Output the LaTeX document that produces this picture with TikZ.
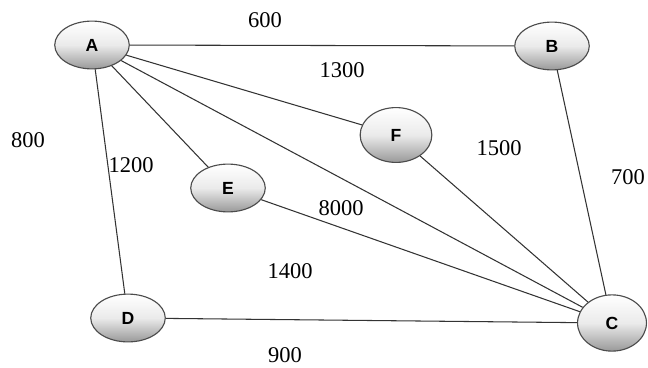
\documentclass[tikz,border=0pt]{standalone}
\usepackage{fontspec}
\setmainfont{Liberation Serif}
\setsansfont{Liberation Sans}
\usepackage{tikz}
\usetikzlibrary{shapes.geometric}
\tikzset{city/.style={ellipse, draw=black!70, line width=0.8pt,
    top color=white, bottom color=black!40, middle color=black!8,
    minimum width=53pt, minimum height=34pt, inner sep=0pt,
    font=\sffamily\bfseries\fontsize{12.5}{14}\selectfont},
  road/.style={draw=black!80, line width=0.75pt},
  dist/.style={font=\fontsize{16}{18}\selectfont}}

\begin{document}
\begin{tikzpicture}[x=0.025cm, y=-0.025cm]
        \useasboundingbox (0,0) rectangle (648,367);
        % towns
        \node[city] (A) at (92,45) {A};
        \node[city] (B) at (552,46) {B};
        \node[city, minimum width=51pt, minimum height=39pt] (F) at (396,135) {F};
        \node[city] (E) at (228,188) {E};
        \node[city] (D) at (128,318) {D};
        \node[city, minimum width=49pt, minimum height=40pt] (C) at (612,323) {C};
        % roads
        \foreach \u/\v in {A/B,A/F,A/E,A/D,A/C,F/C,B/C,E/C,D/C}{
            \draw[road] (\u)--(\v);
        }
        % distances
        \node[dist] (lab) at (265,20) {600};
        \node[dist] (lac) at (341,208) {8000};
        \node[dist] (laf) at (342,70) {1300};
        \node[dist] (lae) at (131,165) {1200};
        \node[dist] (lad) at (28,140) {800};
        \node[dist] (lfc) at (499,148) {1500};
        \node[dist] (lbc) at (628,177) {700};
        \node[dist] (lec) at (290,271) {1400};
        \node[dist] (ldc) at (285,355) {900};
    \end{tikzpicture}
\end{document}
